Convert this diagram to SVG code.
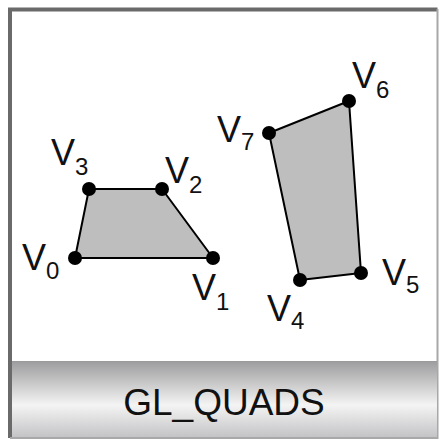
<svg xmlns="http://www.w3.org/2000/svg" width="440" height="440" viewBox="0 0 440 440">
  <defs>
    <linearGradient id="band" x1="0" y1="0" x2="0" y2="1">
      <stop offset="0" stop-color="#9c9c9e"/>
      <stop offset="0.58" stop-color="#f4f4f4"/>
      <stop offset="1" stop-color="#c4c4c6"/>
    </linearGradient>
  </defs>
  <style>
    .quad { fill: #bebebe; stroke: #000; stroke-width: 2; stroke-linejoin: round; }
    .dot { fill: #000; }
    .lbl { font-family: "Liberation Sans", Arial, sans-serif; font-size: 36px; fill: #111; }
    .sub { font-size: 24px; }
    .title { font-family: "Liberation Sans", Arial, sans-serif; font-size: 37px; fill: #111; text-anchor: middle; }
  </style>
  <rect x="0" y="0" width="440" height="440" fill="#fff"/>
  <g id="frame">
    <rect x="10" y="9" width="428" height="429" fill="#fff"/>
    <polyline points="437.5,9.5 10,9.5 10,438" fill="none" stroke="#6a6a6a" stroke-width="4"/>
    <polyline points="437.5,9 437.5,438 10,438" fill="none" stroke="#a8a8a8" stroke-width="2"/>
  </g>
  <g id="title-band">
    <rect x="12" y="361" width="425" height="76" fill="url(#band)"/>
    <line x1="12" y1="361.5" x2="437" y2="361.5" stroke="#9a9a9a" stroke-width="1"/>
    <text class="title" x="224" y="415">GL_QUADS</text>
  </g>
  <g id="connectors">
    <polygon id="quad1" class="quad" points="75,258 213,258 162,189 89,189"/>
    <polygon id="quad2" class="quad" points="300,280 361,273 349,101 269,133"/>
  </g>
  <g id="v0"><circle class="dot" cx="75" cy="258" r="7"/><text class="lbl" x="22" y="270">V<tspan class="sub" dy="9">0</tspan></text></g>
  <g id="v1"><circle class="dot" cx="213" cy="258" r="7"/><text class="lbl" x="192" y="300">V<tspan class="sub" dy="10">1</tspan></text></g>
  <g id="v2"><circle class="dot" cx="162" cy="189" r="7"/><text class="lbl" x="165" y="183">V<tspan class="sub" dy="10">2</tspan></text></g>
  <g id="v3"><circle class="dot" cx="89" cy="189" r="7"/><text class="lbl" x="51" y="165">V<tspan class="sub" dy="10">3</tspan></text></g>
  <g id="v4"><circle class="dot" cx="300" cy="280" r="7"/><text class="lbl" x="267" y="321">V<tspan class="sub" dy="8">4</tspan></text></g>
  <g id="v5"><circle class="dot" cx="361" cy="273" r="7"/><text class="lbl" x="382" y="285">V<tspan class="sub" dy="8">5</tspan></text></g>
  <g id="v6"><circle class="dot" cx="349" cy="101" r="7"/><text class="lbl" x="352" y="88">V<tspan class="sub" dy="10">6</tspan></text></g>
  <g id="v7"><circle class="dot" cx="269" cy="133" r="7"/><text class="lbl" x="217" y="142">V<tspan class="sub" dy="8">7</tspan></text></g>
</svg>
